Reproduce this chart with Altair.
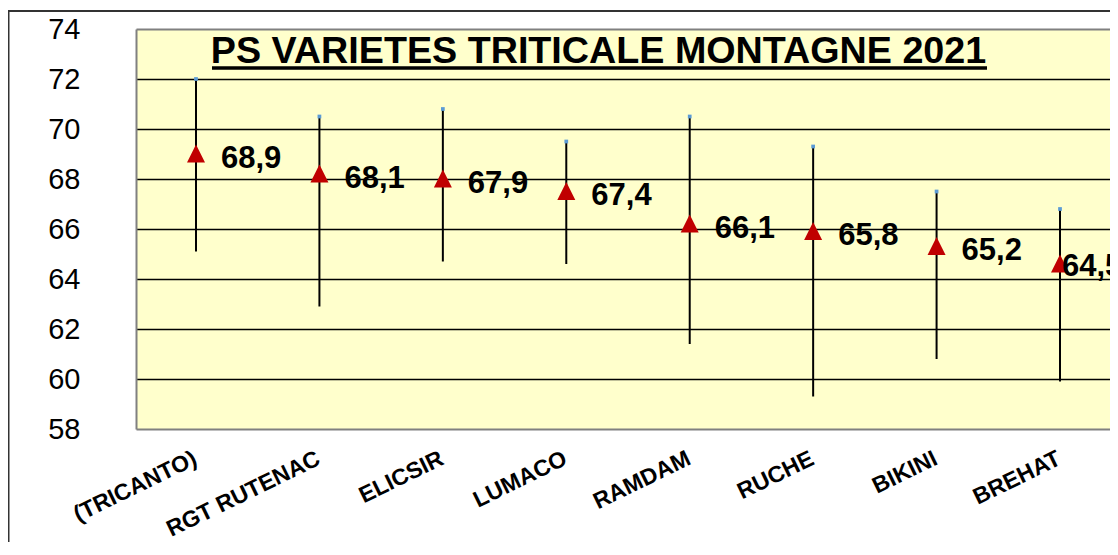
import altair as alt
import pandas as pd

names = ["(TRICANTO)", "RGT RUTENAC", "ELICSIR", "LUMACO", "RAMDAM", "RUCHE", "BIKINI", "BREHAT"]
means = [68.9, 68.1, 67.9, 67.4, 66.1, 65.8, 65.2, 64.5]
highs = [72.0, 70.5, 70.8, 69.5, 70.5, 69.3, 67.5, 66.8]
lows = [65.1, 62.9, 64.7, 64.6, 61.4, 59.3, 60.8, 59.9]
y_ticks = [58, 60, 62, 64, 66, 68, 70, 72, 74]
title_text = "PS VARIETES TRITICALE MONTAGNE 2021"

df = pd.DataFrame({"name": names, "mean": means, "high": highs, "low": lows})

FONT = "Liberation Sans"

x_scale = alt.Scale(type="point", range=[0, 984], padding=0.486)
x_enc = alt.X(
    "name:N",
    sort=names,
    scale=x_scale,
    axis=alt.Axis(
        title=None, domain=False, ticks=False, tickSize=0, grid=False,
        labelAngle=-26, labelAlign="right", labelBaseline="top",
        labelPadding=18, labelOffset=-6, labelFontSize=23, labelFontWeight="bold",
        labelFont=FONT, labelColor="black", labelOverlap=False, labelLimit=400,
    ),
)
y_scale = alt.Scale(domain=[58, 74], nice=False, zero=False)
y_axis = alt.Axis(
    title=None, values=y_ticks, domain=True, domainColor="#808080", domainWidth=2,
    ticks=False, tickSize=0,
    labelPadding=56, labelFontSize=29, labelFont=FONT, labelColor="black",
    labelFlush=False,
    gridColor={"condition": {"test": "datum.value <= 58 || datum.value >= 74", "value": "#808080"}, "value": "black"},
    gridWidth={"condition": {"test": "datum.value <= 58 || datum.value >= 74", "value": 2}, "value": 1.6},
)

base = alt.Chart(df)

border = alt.Chart(alt.Data(values=[{"k": 1}])).mark_rect(
    fillOpacity=0, stroke="#333333", strokeWidth=2
).encode(x=alt.value(-127.5), x2=alt.value(1300), y=alt.value(-18), y2=alt.value(800))

whisk = base.mark_rule(color="black", strokeWidth=2).encode(
    x=x_enc,
    y=alt.Y("low:Q", scale=y_scale, axis=y_axis),
    y2="high:Q",
)

tops = base.mark_square(size=14, color="#5B9BD5", opacity=1).encode(
    x=alt.X("name:N", sort=names), y="high:Q"
)

tri = base.mark_point(
    shape="M0,-1.333L1,0.667L-1,0.667Z", size=324, filled=True,
    color="#C00000", opacity=1,
).encode(x=alt.X("name:N", sort=names), y="mean:Q")

lbl_calc = "replace(format(datum.mean, '.1f'), '.', ',')"
labels = base.transform_filter(alt.datum.name != "BREHAT").transform_calculate(
    lbl=lbl_calc
).mark_text(
    align="left", baseline="middle", dx=25, dy=2, fontSize=31,
    fontWeight="bold", font=FONT, color="black",
).encode(x=alt.X("name:N", sort=names), y="mean:Q", text="lbl:N")

labels_last = base.transform_filter(alt.datum.name == "BREHAT").transform_calculate(
    lbl=lbl_calc
).mark_text(
    align="left", baseline="middle", dx=2, dy=0, fontSize=31,
    fontWeight="bold", font=FONT, color="black",
).encode(x=alt.X("name:N", sort=names), y="mean:Q", text="lbl:N")

title = alt.Chart(alt.Data(values=[{"t": title_text}])).mark_text(
    align="center", baseline="alphabetic", fontSize=37.7, fontWeight="bold",
    font=FONT, color="black",
).encode(x=alt.value(462.5), y=alt.value(34), text="t:N")

underline = alt.Chart(alt.Data(values=[{"k": 1}])).mark_rule(
    color="black", strokeWidth=3.5
).encode(x=alt.value(76), x2=alt.value(851), y=alt.value(39))

chart = alt.layer(border, whisk, tops, tri, labels, labels_last, title, underline).properties(
    width=974, height=400,
    autosize=alt.AutoSizeParams(type="none"),
    padding={"left": 128, "top": 21, "right": 0, "bottom": 113},
    background="white",
).configure_view(
    fill="#FFFFCC", strokeOpacity=0
)

chart.save("out.html", embed_options={"renderer": "svg", "actions": False})
